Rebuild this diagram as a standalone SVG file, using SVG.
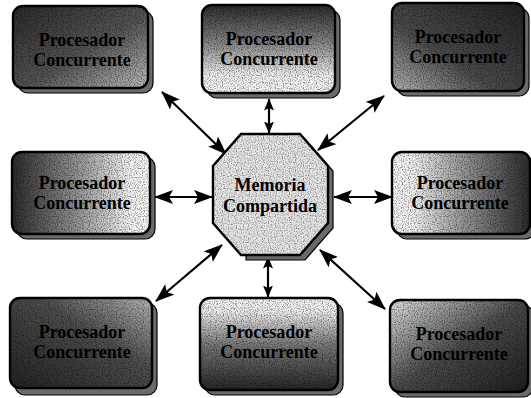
<svg xmlns="http://www.w3.org/2000/svg" width="531" height="398" viewBox="0 0 531 398">
  <style>
    .face { stroke: #000; stroke-width: 2.4; }
    .shadow { fill: #6a6a6a; stroke: #000; stroke-width: 1.2; }
    .grain { fill: #000; filter: url(#grain); opacity: 0.45; }
    .label { font-family: "Liberation Serif", "Times New Roman", serif; font-weight: bold; font-size: 18px; fill: #000; text-anchor: middle; }
    .link { stroke: #000; stroke-width: 2.2; fill: none; marker-start: url(#head); marker-end: url(#head); }
    .link.short { marker-start: url(#headSmall); marker-end: url(#headSmall); }
  </style>
  <defs>
    <marker id="head" viewBox="0 0 19 14" refX="18" refY="7" markerWidth="19" markerHeight="14" markerUnits="userSpaceOnUse" orient="auto-start-reverse">
      <path d="M0,0 L19,7 L0,14 L4,7 Z" fill="#000"/>
    </marker>
    <marker id="headSmall" viewBox="0 0 12 10" refX="11.5" refY="5" markerWidth="12" markerHeight="10" markerUnits="userSpaceOnUse" orient="auto-start-reverse">
      <path d="M0,0 L12,5 L0,10 L2.5,5 Z" fill="#000"/>
    </marker>
    <!-- dark speckle texture laid over the shaded faces -->
    <filter id="grain" x="0" y="0" width="100%" height="100%">
      <feTurbulence type="fractalNoise" baseFrequency="0.85" numOctaves="1" seed="4" result="n"/>
      <feColorMatrix in="n" type="matrix" values="0 0 0 0 0  0 0 0 0 0  0 0 0 0 0  3.5 0 0 0 -1.6" result="d"/>
      <feComposite in="d" in2="SourceGraphic" operator="in"/>
    </filter>
    <linearGradient id="gTL" x1="0" y1="0" x2="1" y2="1">
      <stop offset="0" stop-color="#2a2a2a"/><stop offset="0.55" stop-color="#555"/><stop offset="1" stop-color="#bdbdbd"/>
    </linearGradient>
    <linearGradient id="gTM" x1="0" y1="0" x2="0" y2="1">
      <stop offset="0" stop-color="#2a2a2a"/><stop offset="0.45" stop-color="#8a8a8a"/><stop offset="0.8" stop-color="#efefef"/><stop offset="1" stop-color="#fafafa"/>
    </linearGradient>
    <linearGradient id="gTR" x1="1" y1="0" x2="0" y2="1">
      <stop offset="0" stop-color="#222"/><stop offset="0.6" stop-color="#4a4a4a"/><stop offset="1" stop-color="#b5b5b5"/>
    </linearGradient>
    <linearGradient id="gML" x1="0" y1="0" x2="1" y2="0">
      <stop offset="0" stop-color="#2a2a2a"/><stop offset="0.5" stop-color="#9a9a9a"/><stop offset="0.85" stop-color="#f2f2f2"/><stop offset="1" stop-color="#fafafa"/>
    </linearGradient>
    <linearGradient id="gMR" x1="1" y1="0" x2="0" y2="0">
      <stop offset="0" stop-color="#2a2a2a"/><stop offset="0.5" stop-color="#9a9a9a"/><stop offset="0.85" stop-color="#f2f2f2"/><stop offset="1" stop-color="#fafafa"/>
    </linearGradient>
    <linearGradient id="gBL" x1="0" y1="1" x2="1" y2="0">
      <stop offset="0" stop-color="#222"/><stop offset="0.6" stop-color="#4e4e4e"/><stop offset="1" stop-color="#b8b8b8"/>
    </linearGradient>
    <linearGradient id="gBM" x1="0" y1="1" x2="0" y2="0">
      <stop offset="0" stop-color="#262626"/><stop offset="0.5" stop-color="#7a7a7a"/><stop offset="0.85" stop-color="#ececec"/><stop offset="1" stop-color="#f8f8f8"/>
    </linearGradient>
    <linearGradient id="gBR" x1="1" y1="1" x2="0" y2="0">
      <stop offset="0" stop-color="#1e1e1e"/><stop offset="0.5" stop-color="#4a4a4a"/><stop offset="1" stop-color="#e2e2e2"/>
    </linearGradient>
  </defs>

  <rect width="531" height="398" fill="#fff"/>

  <!-- double-headed links between the shared memory and each processor -->
  <g id="connectors">
    <line class="link" x1="162" y1="92" x2="226" y2="154"/>
    <line class="link short" x1="269" y1="99" x2="269" y2="133"/>
    <line class="link" x1="384" y1="96" x2="318" y2="150"/>
    <line class="link" x1="155" y1="197" x2="212" y2="197"/>
    <line class="link" x1="334" y1="197" x2="392" y2="197"/>
    <line class="link" x1="156" y1="301" x2="222" y2="245"/>
    <line class="link short" x1="268" y1="257" x2="268" y2="297"/>
    <line class="link" x1="320" y1="250" x2="385" y2="309"/>
  </g>

  <!-- central shared memory -->
  <g id="memoria">
    <polygon class="shadow" points="246,139 305,139 333,171 333,228 305,260 246,260"/>
    <polygon class="face" fill="#e6e6e6" points="241,134 300,134 328,166 328,223 300,255 241,255 213,223 213,166"/>
    <polygon class="grain" style="opacity:0.4" points="241,134 300,134 328,166 328,223 300,255 241,255 213,223 213,166"/>
    <text class="label" x="270" y="191">Memoria</text>
    <text class="label" x="270" y="212">Compartida</text>
  </g>

  <g id="proc-tl">
    <rect class="shadow" x="18" y="11" width="135" height="82" rx="10"/>
    <rect class="face" x="13" y="6" width="135" height="82" rx="10" fill="url(#gTL)"/>
    <rect class="grain" x="13" y="6" width="135" height="82" rx="10"/>
    <text class="label" x="82" y="46">Procesador</text>
    <text class="label" x="82" y="66">Concurrente</text>
  </g>

  <g id="proc-tm">
    <rect class="shadow" x="207" y="10" width="133" height="88" rx="10"/>
    <rect class="face" x="202" y="5" width="133" height="88" rx="10" fill="url(#gTM)"/>
    <rect class="grain" x="202" y="5" width="133" height="88" rx="10"/>
    <text class="label" x="269" y="45">Procesador</text>
    <text class="label" x="269" y="65">Concurrente</text>
  </g>

  <g id="proc-tr">
    <rect class="shadow" x="397" y="8" width="132" height="88" rx="10"/>
    <rect class="face" x="392" y="3" width="132" height="88" rx="10" fill="url(#gTR)"/>
    <rect class="grain" x="392" y="3" width="132" height="88" rx="10"/>
    <text class="label" x="458" y="43">Procesador</text>
    <text class="label" x="458" y="63">Concurrente</text>
  </g>

  <g id="proc-ml">
    <rect class="shadow" x="17" y="157" width="138" height="82" rx="10"/>
    <rect class="face" x="12" y="152" width="138" height="82" rx="10" fill="url(#gML)"/>
    <rect class="grain" x="12" y="152" width="138" height="82" rx="10"/>
    <text class="label" x="82" y="189">Procesador</text>
    <text class="label" x="82" y="209">Concurrente</text>
  </g>

  <g id="proc-mr">
    <rect class="shadow" x="397" y="157" width="138" height="82" rx="10"/>
    <rect class="face" x="392" y="152" width="138" height="82" rx="10" fill="url(#gMR)"/>
    <rect class="grain" x="392" y="152" width="138" height="82" rx="10"/>
    <text class="label" x="460" y="189">Procesador</text>
    <text class="label" x="460" y="209">Concurrente</text>
  </g>

  <g id="proc-bl">
    <rect class="shadow" x="15" y="303" width="142" height="92" rx="10"/>
    <rect class="face" x="10" y="298" width="142" height="90" rx="10" fill="url(#gBL)"/>
    <rect class="grain" x="10" y="298" width="142" height="90" rx="10"/>
    <text class="label" x="82" y="338">Procesador</text>
    <text class="label" x="82" y="358">Concurrente</text>
  </g>

  <g id="proc-bm">
    <rect class="shadow" x="205" y="303" width="138" height="92" rx="10"/>
    <rect class="face" x="200" y="298" width="138" height="92" rx="10" fill="url(#gBM)"/>
    <rect class="grain" x="200" y="298" width="138" height="92" rx="10"/>
    <text class="label" x="269" y="338">Procesador</text>
    <text class="label" x="269" y="358">Concurrente</text>
  </g>

  <g id="proc-br">
    <rect class="shadow" x="395" y="305" width="138" height="92" rx="10"/>
    <rect class="face" x="390" y="300" width="138" height="92" rx="10" fill="url(#gBR)"/>
    <rect class="grain" x="390" y="300" width="138" height="92" rx="10"/>
    <text class="label" x="459" y="340">Procesador</text>
    <text class="label" x="459" y="360">Concurrente</text>
  </g>
</svg>
